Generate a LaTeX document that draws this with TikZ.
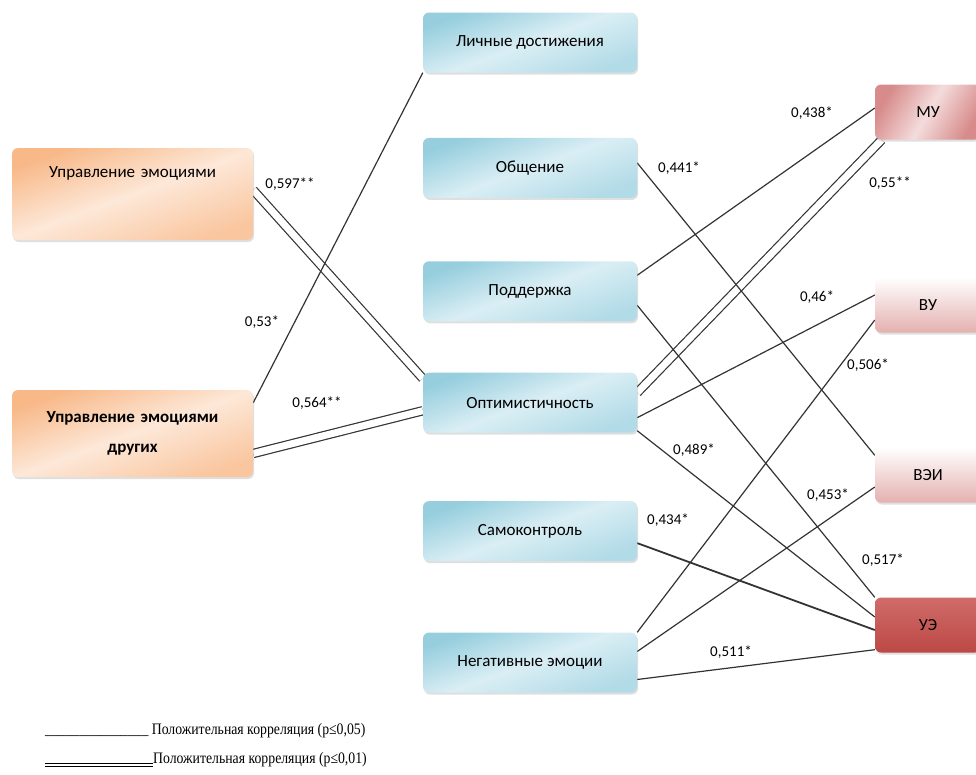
\documentclass[tikz,border=0pt]{standalone}
\usepackage{fontspec}
\setmainfont{Carlito}
\newfontfamily\legendfont[FakeStretch=0.86]{Liberation Serif}
\usepackage{tikz}
\usetikzlibrary{positioning}
\usetikzlibrary{calc}
\usetikzlibrary{shadows}
\pgfdeclarelayer{bg}
\pgfsetlayers{bg,main}
\definecolor{peach}{RGB}{248,184,136}
\definecolor{peachlight}{RGB}{253,232,216}
\definecolor{sky}{RGB}{150,206,222}
\definecolor{skylight}{RGB}{218,238,244}
\definecolor{rose}{RGB}{215,140,139}
\definecolor{roselight}{RGB}{244,220,220}
\definecolor{roseedge}{RGB}{228,176,175}
\definecolor{redbox}{RGB}{188,72,69}
\definecolor{redlight}{RGB}{208,108,105}
\tikzstyle{box}=
[rectangle,
rounded corners=6pt,
inner sep=0pt,
text centered,
text=black,
font=\fontsize{17}{20}\selectfont,
drop shadow={shadow xshift=1pt,shadow yshift=-2pt,opacity=0.25}]
\tikzstyle{leftbox}=
[box,
minimum width=241pt,
text width=241pt,
top color=peach,
bottom color=peach!70!peachlight,
middle color=peachlight,
shading angle=20]
\tikzstyle{midbox}=
[box,
minimum width=214pt,
minimum height=60pt,
top color=sky,
bottom color=sky!60!skylight,
middle color=skylight,
shading angle=20]
\tikzstyle{rightbox}=
[box,
minimum width=106pt,
minimum height=55pt]
\tikzstyle{link}=
[line width=1.2pt,black!80]
\tikzstyle{strong}=
[link,double,double distance=7pt]
\tikzstyle{coef}=
[inner sep=0pt,font=\fontsize{15}{17}\selectfont,text=black]
\tikzstyle{legend}=
[inner sep=0pt,font=\legendfont\fontsize{16}{18}\selectfont]

\begin{document}
\begin{tikzpicture}[x=1pt,y=-1pt]
\useasboundingbox (0,0) rectangle (976,774);
% left column
\node (L_1)
[leftbox,
minimum height=92pt,
text height=12pt,
text depth=45pt]
at (132.5,194)
{Управление эмоциями};
\node (L_2)
[leftbox,
minimum height=87pt,
font=\bfseries\fontsize{17}{30}\selectfont]
at (132.5,433.5)
{Управление эмоциями\\ других};
% middle column
\node (M_1) [midbox] at (530,42.5) {Личные достижения};
\node (M_2) [midbox,below=65pt of M_1] {Общение};
\node (M_3) [midbox,below=63pt of M_2] {Поддержка};
\node (M_4) [midbox,below=51pt of M_3] {Оптимистичность};
\node (M_5) [midbox,below=68pt of M_4] {Самоконтроль};
\node (M_6) [midbox,below=71pt of M_5] {Негативные эмоции};
% right column
\node (R_1)
[rightbox,
left color=rose,
right color=rose,
middle color=roselight,
shading angle=60]
at (928,112)
{МУ};
\node (R_2)
[rightbox,
top color=white,
bottom color=roseedge]
at (928,305)
{ВУ};
\node (R_3)
[rightbox,
top color=white,
bottom color=roseedge]
at (928,475)
{ВЭИ};
\node (R_4)
[rightbox,
top color=redlight,
bottom color=redbox]
at (928,625)
{УЭ};
\begin{pgfonlayer}{bg}
% p<=0,01
\draw[strong]($(L_1.east)+(0,-4)$)--($(M_4.north west)+(0,6)$);
\draw[strong]($(L_2.east)+(0,20)$)--($(M_4.west)+(0,8)$);
\draw[strong]($(M_4.east)+(0,-10)$)--($(R_1.south west)+(7,0)$);
% p<=0,05
\draw[link]($(L_2.north east)+(0,13)$)--(M_1.south west);
\draw[link]($(M_2.east)+(0,-5)$)--($(R_3.north west)+(0,8)$);
\draw[link]($(M_3.east)+(0,-16)$)--($(R_1.west)+(0,-4)$);
\draw[link]($(M_3.east)+(0,14)$)--(R_4.north west);
\draw[link]($(M_4.east)+(0,15)$)--($(R_2.west)+(0,-10)$);
\draw[link]($(M_4.east)+(0,28)$)--($(R_4.west)+(0,-8)$);
\draw[link,line width=1.8pt]($(M_5.east)+(0,12)$)--($(R_4.west)+(0,5)$);
\draw[link](M_6.north east)--($(R_2.west)+(0,15)$);
\draw[link]($(M_6.east)+(0,-11)$)--($(R_3.west)+(0,12)$);
\draw[link]($(M_6.east)+(0,17)$)--($(R_4.south west)+(0,-3)$);
\end{pgfonlayer}
% coefficients
\node (C_1) [coef] at (290,184) {0,597**};
\node (C_2) [coef] at (262,322) {0,53*};
\node (C_3) [coef] at (317,403) {0,564**};
\node (C_4) [coef] at (679,168) {0,441*};
\node (C_5) [coef] at (812,113) {0,438*};
\node (C_6) [coef] at (890,183) {0,55**};
\node (C_7) [coef] at (817,297) {0,46*};
\node (C_8) [coef] at (868,365) {0,506*};
\node (C_9) [coef] at (694,450) {0,489*};
\node (C_10) [coef] at (668,520) {0,434*};
\node (C_11) [coef] at (828,495) {0,453*};
\node (C_12) [coef] at (883,560) {0,517*};
\node (C_13) [coef] at (731,652) {0,511*};
% legend
\node (K_1) [legend,anchor=west] at (45,731)
{\_\_\_\_\_\_\_\_\_\_\_\_\_\_\_ Положительная корреляция (p≤0,05)};
\coordinate (K_2) at (45,765);
\node (K_3) [legend,anchor=west] at (153,760)
{Положительная корреляция (p≤0,01)};
\draw[line width=1.2pt,double,double distance=1.4pt](K_2)--(K_2 -| K_3.west);
\end{tikzpicture}
\end{document}
